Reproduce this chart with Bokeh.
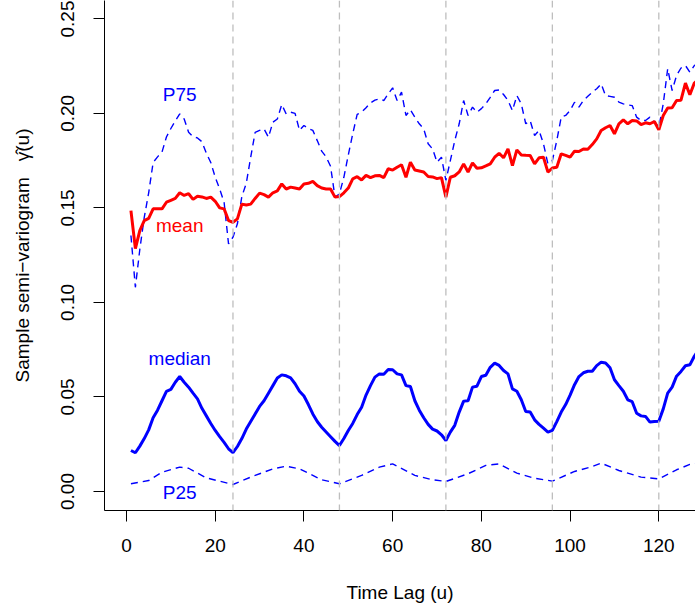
from bokeh.plotting import figure
from bokeh.models import Span, FixedTicker, PrintfTickFormatter, Range1d
from bokeh.core.properties import value
from bokeh.embed import file_html
from bokeh.resources import INLINE

# ---- data ----
mean_vals = [
    0.1486, 0.1285, 0.138, 0.1433, 0.1445, 0.1495, 0.1495, 0.1495, 0.153, 0.154,
    0.155, 0.158, 0.1566, 0.1575, 0.1545, 0.1562, 0.1558, 0.155, 0.1557, 0.1535,
    0.150, 0.1495, 0.1433, 0.1424, 0.1442, 0.152, 0.1515, 0.152, 0.155, 0.1578,
    0.157, 0.1557, 0.158, 0.159, 0.1627, 0.160, 0.161, 0.1605, 0.160, 0.1627,
    0.163, 0.164, 0.1618, 0.1605, 0.160, 0.160, 0.1557, 0.156, 0.158, 0.1605,
    0.1654, 0.1665, 0.1648, 0.1672, 0.166, 0.167, 0.1672, 0.166, 0.1707, 0.170,
    0.1715, 0.1728, 0.1662, 0.1742, 0.170, 0.1695, 0.169, 0.1666, 0.1664, 0.1655,
    0.166, 0.1557, 0.1662, 0.167, 0.169, 0.1733, 0.169, 0.1738, 0.171, 0.1712,
    0.1722, 0.1733, 0.1768, 0.1789, 0.1765, 0.1812, 0.1724, 0.1807, 0.178, 0.1778,
    0.1777, 0.1733, 0.1765, 0.1768, 0.1689, 0.1711, 0.1715, 0.1786, 0.1778, 0.1768,
    0.180, 0.1798, 0.1812, 0.181, 0.1835, 0.1865, 0.1909, 0.1924, 0.1936, 0.1892,
    0.1945, 0.1966, 0.1945, 0.1962, 0.196, 0.1941, 0.195, 0.1945, 0.1957, 0.1913,
    0.1989, 0.2029, 0.203, 0.2068, 0.207, 0.216, 0.2098, 0.216, 0.218,
]
median_vals = [
    0.0217, 0.0205, 0.024, 0.028, 0.0326, 0.039, 0.043, 0.048, 0.053, 0.054,
    0.0578, 0.0608, 0.0578, 0.0552, 0.052, 0.049, 0.044, 0.040, 0.036, 0.0323,
    0.029, 0.026, 0.0226, 0.0205, 0.0238, 0.028, 0.033, 0.037, 0.041, 0.045,
    0.048, 0.052, 0.056, 0.060, 0.0617, 0.0612, 0.0601, 0.057, 0.053, 0.0505,
    0.046, 0.041, 0.037, 0.034, 0.0315, 0.029, 0.0265, 0.0243, 0.028, 0.0323,
    0.036, 0.0407, 0.0446, 0.051, 0.056, 0.0605, 0.0622, 0.062, 0.0645, 0.0644,
    0.0622, 0.0617, 0.056, 0.0555, 0.048, 0.043, 0.039, 0.0355, 0.033, 0.032,
    0.030, 0.027, 0.0314, 0.035, 0.042, 0.0478, 0.048, 0.0552, 0.0557, 0.0608,
    0.0615, 0.0657, 0.0679, 0.0667, 0.064, 0.0622, 0.0543, 0.053, 0.0485, 0.0423,
    0.042, 0.0379, 0.0355, 0.0335, 0.0314, 0.0323, 0.037, 0.042, 0.046, 0.051,
    0.0565, 0.0608, 0.0628, 0.0636, 0.0636, 0.0666, 0.0684, 0.068, 0.0654, 0.0591,
    0.056, 0.053, 0.0485, 0.0475, 0.0414, 0.040, 0.0397, 0.0367, 0.037, 0.0372,
    0.0437, 0.052, 0.0552, 0.061, 0.0635, 0.0665, 0.067, 0.0715, 0.075,
]
p75_vals = [
    0.1354, 0.108, 0.128, 0.145, 0.158, 0.174, 0.177, 0.1795, 0.1875, 0.192,
    0.196, 0.1997, 0.197, 0.190, 0.1877, 0.187, 0.185, 0.179, 0.174, 0.1662,
    0.160, 0.153, 0.131, 0.1345, 0.1416, 0.156, 0.163, 0.1768, 0.190, 0.191,
    0.1918, 0.1874, 0.1953, 0.197, 0.2047, 0.1997, 0.2006, 0.200, 0.191, 0.1936,
    0.192, 0.191, 0.1856, 0.180, 0.177, 0.172, 0.1557, 0.1574, 0.1662, 0.178,
    0.1892, 0.1995, 0.2006, 0.203, 0.2055, 0.207, 0.2077, 0.2068, 0.2103, 0.2135,
    0.2068, 0.2112, 0.1989, 0.2019, 0.198, 0.1945, 0.1918, 0.1839, 0.1812, 0.1742,
    0.1768, 0.1645, 0.175, 0.1856, 0.1945, 0.2068, 0.1989, 0.2033, 0.2006, 0.2025,
    0.205, 0.2085, 0.2121, 0.2124, 0.210, 0.2068, 0.2015, 0.2094, 0.205, 0.1945,
    0.1961, 0.1883, 0.191, 0.1839, 0.1733, 0.175, 0.1856, 0.198, 0.1989, 0.2015,
    0.2059, 0.2033, 0.2068, 0.209, 0.2112, 0.213, 0.2156, 0.2094, 0.209, 0.2085,
    0.206, 0.205, 0.2045, 0.2041, 0.198, 0.1962, 0.1962, 0.198, 0.1957, 0.1927,
    0.205, 0.2236, 0.2121, 0.22, 0.224, 0.2253, 0.2218, 0.2253, 0.226,
]
p25_lags = [1, 5, 8, 12, 14, 18, 24, 28, 33, 36, 39, 44, 48, 53, 57, 60, 65, 69,
            72, 77, 81, 84, 88, 92, 96, 101, 105, 107, 111, 116, 120, 124, 127, 130]
p25_vals = [0.0041, 0.0058, 0.0102, 0.0129, 0.0123, 0.0072, 0.0037, 0.0076, 0.012,
            0.0134, 0.012, 0.0062, 0.0041, 0.0085, 0.0129, 0.0146, 0.0085, 0.0062,
            0.0053, 0.0094, 0.0138, 0.0146, 0.0097, 0.007, 0.0055, 0.0106, 0.0132,
            0.015, 0.0111, 0.0076, 0.0067, 0.0115, 0.0143, 0.0152]
period_lags = [24, 48, 72, 96, 120]
x_ticks = [0, 20, 40, 60, 80, 100, 120]
y_ticks = [0.0, 0.05, 0.10, 0.15, 0.20, 0.25]

mean_lags = list(range(1, len(mean_vals) + 1))
median_lags = list(range(1, len(median_vals) + 1))
p75_lags = list(range(1, len(p75_vals) + 1))

FONT = "Liberation Sans"
FS = "19px"
BLUE = "#0000FF"
RED = "#FF0000"

p = figure(frame_width=591, frame_height=510, output_backend="svg",
           toolbar_location=None, x_range=Range1d(-4.96, 128.27),
           y_range=Range1d(-0.01005, 0.2597),
           min_border_left=104, min_border_right=0, min_border_top=0,
           min_border_bottom=99, background_fill_color="white",
           border_fill_color="white")
p.outline_line_color = None
p.xgrid.visible = False
p.ygrid.visible = False

for lag in period_lags:
    p.add_layout(Span(location=lag, dimension="height", line_color="#BEBEBE",
                      line_width=1.3, line_dash="7 5"))

p.line(p75_lags, p75_vals, line_color=BLUE, line_width=1.4, line_dash="7 5")
p.line(p25_lags, p25_vals, line_color=BLUE, line_width=1.4, line_dash="7 5")
p.line(mean_lags, mean_vals, line_color=RED, line_width=3)
p.line(median_lags, median_vals, line_color=BLUE, line_width=3)

for x, y, t, c in [(12, 0.2100, "P75", BLUE), (12, 0.1405, "mean", RED),
                   (12, 0.0702, "median", BLUE), (12, -0.0005, "P25", BLUE)]:
    p.text(x=[x], y=[y], text=[t], text_color=c, text_font=value(FONT),
           text_font_size=FS, text_align="center", text_baseline="alphabetic")

for ax in (p.xaxis[0], p.yaxis[0]):
    ax.axis_line_color = "black"
    ax.axis_line_width = 1
    ax.major_tick_line_color = "black"
    ax.major_tick_out = 11
    ax.major_tick_in = 0
    ax.minor_tick_line_color = None
    ax.major_label_text_font = FONT
    ax.major_label_text_font_size = FS
    ax.major_label_text_color = "black"
    ax.axis_label_text_font = FONT
    ax.axis_label_text_font_size = FS
    ax.axis_label_text_font_style = "normal"
    ax.axis_label_text_color = "black"

p.xaxis.ticker = FixedTicker(ticks=x_ticks)
p.yaxis.ticker = FixedTicker(ticks=y_ticks)
p.yaxis.formatter = PrintfTickFormatter(format="%.2f")
p.yaxis.major_label_orientation = "vertical"
p.xaxis.axis_label = "Time Lag (u)"
p.yaxis.axis_label = "Sample semi\u2212variogram\u00a0\u00a0\u00a0\u03b3\u0302(u)"
p.xaxis.major_label_standoff = 17
p.xaxis.axis_label_standoff = 27
p.yaxis.major_label_standoff = 19
p.yaxis.axis_label_standoff = 26

open("out.html", "w").write(file_html(p, INLINE))
